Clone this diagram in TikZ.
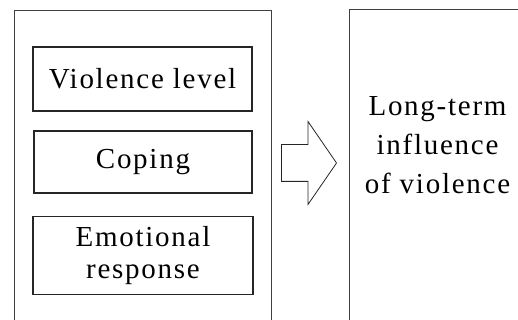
\documentclass[tikz,border=0pt]{standalone}
\usepackage{fontspec}
\newfontfamily\diagfont{Liberation Serif}[LetterSpace=6]
\usetikzlibrary{positioning,shapes.arrows}
\definecolor{framegray}{HTML}{404040}
\definecolor{boxgray}{HTML}{262626}

\begin{document}
\begin{tikzpicture}[
  x=1pt, y=-1pt,
  frame/.style={draw=framegray, line width=1pt, inner sep=0pt},
  box/.style={draw=boxgray, line width=1.1pt, inner sep=0pt, align=center,
              font=\diagfont\fontsize{29}{32}\selectfont},
  txt/.style={align=center, inner sep=0pt,
              font=\diagfont\fontsize{29}{39}\selectfont},
  blockarr/.style={single arrow, draw=boxgray, line width=0.8pt,
                   inner xsep=0pt, inner ysep=18pt,
                   single arrow head extend=23pt, single arrow tip angle=111},
]
\useasboundingbox (0,0) rectangle (518,320);
\clip (0,0) rectangle (518,320);

% ---- Left: factors ----
\node[frame, minimum width=257pt, minimum height=311pt] (factors) at (142.5, 166.5) {};

\node[box, minimum width=219pt, minimum height=64pt] (level) at (142.5, 79) {Violence level};
\node[box, minimum width=218pt, minimum height=62pt] (coping) at (143, 162) {Coping};
\node[box, minimum width=220pt, minimum height=78pt] (emotion) at (143, 255.5)
  {Emotional\\response};

% ---- Arrow ----
\node[blockarr, minimum height=55pt, anchor=tip] (arrow) at (337, 163) {};

% ---- Right: outcome ----
\node[frame, minimum width=177pt, minimum height=312pt] (outcome) at (437.5, 166) {};
\node[txt] (outcometxt) at (437.5, 145) {Long-term\\influence\\of violence};

\end{tikzpicture}
\end{document}
